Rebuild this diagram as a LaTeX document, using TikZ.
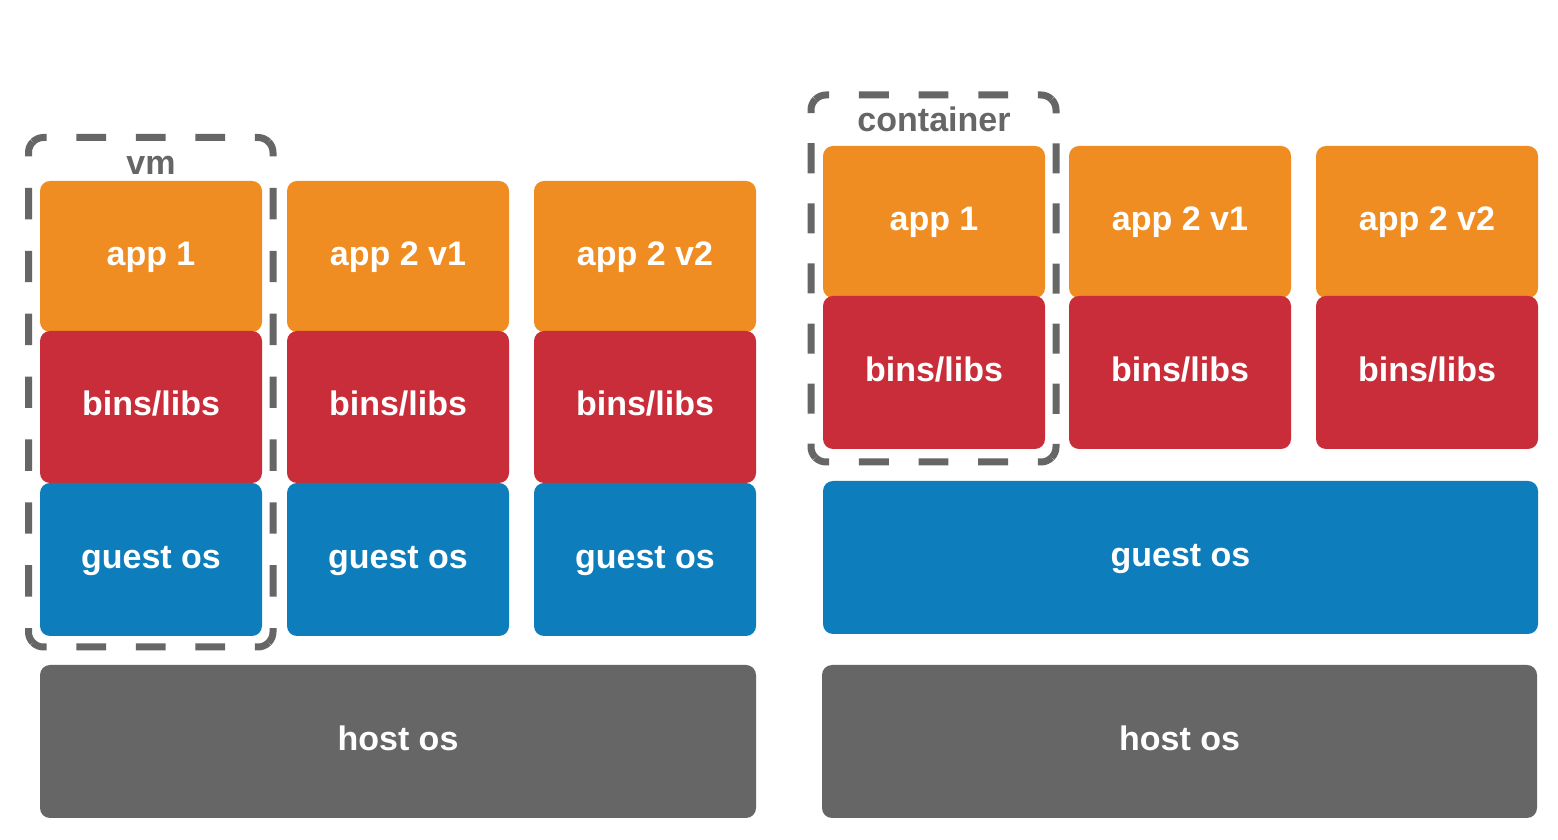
\documentclass[tikz,border=0pt]{standalone}
\usepackage{fontspec}
\setmainfont{Liberation Sans}
\definecolor{cOrange}{HTML}{EF8D22}
\definecolor{cRed}{HTML}{C92D39}
\definecolor{cBlue}{HTML}{0D7DBC}
\definecolor{cGray}{HTML}{666666}
\tikzset{
  layer/.style={rectangle, rounded corners=10pt, inner sep=0pt, draw=none,
    text=white, font=\fontsize{34}{40}\selectfont\bfseries,
    text height=25pt, text depth=7pt},
  applayer/.style={layer, fill=cOrange},
  binslayer/.style={layer, fill=cRed},
  oslayer/.style={layer, fill=cBlue},
  hostlayer/.style={layer, fill=cGray},
  grouplabel/.style={text=cGray, font=\fontsize{34}{40}\selectfont\bfseries, inner sep=0pt, anchor=base},
  groupline/.style={draw=cGray, line width=7pt}
}
\begin{document}
\begin{tikzpicture}[x=1pt,y=1pt]
\useasboundingbox (0,0) rectangle (1558,840);
\fill[white] (0,0) rectangle (1558,840);

% ---------------- left: virtual machines ----------------
\node[applayer, minimum width=222pt, minimum height=151pt] (appA) at (151,583.5) {app 1};
\node[applayer, minimum width=222pt, minimum height=151pt] (appB) at (398,583.5) {app 2 v1};
\node[applayer, minimum width=222pt, minimum height=151pt] (appC) at (645,583.5) {app 2 v2};
\node[binslayer, minimum width=222pt, minimum height=152pt] (binsA) at (151,433) {bins/libs};
\node[binslayer, minimum width=222pt, minimum height=152pt] (binsB) at (398,433) {bins/libs};
\node[binslayer, minimum width=222pt, minimum height=152pt] (binsC) at (645,433) {bins/libs};
\node[oslayer, minimum width=222pt, minimum height=153pt] (osA) at (151,280.5) {guest os};
\node[oslayer, minimum width=222pt, minimum height=153pt] (osB) at (398,280.5) {guest os};
\node[oslayer, minimum width=222pt, minimum height=153pt] (osC) at (645,280.5) {guest os};
\node[hostlayer, minimum width=716pt, minimum height=153pt] (hostL) at (398,98.5) {host os};

% vm dashed group
\draw[groupline, dash pattern=on 29.76pt off 29.76pt, dash phase=14.88pt]
  ([shift={(135:15)}]43.5,687.5) arc[start angle=135,end angle=90,radius=15] -- (258,702.5)
  arc[start angle=90,end angle=45,radius=15];
\draw[groupline, dash pattern=on 31.44pt off 31.44pt, dash phase=15.72pt]
  ([shift={(45:15)}]258,687.5) arc[start angle=45,end angle=0,radius=15] -- (273,208)
  arc[start angle=0,end angle=-45,radius=15];
\draw[groupline, dash pattern=on 29.76pt off 29.76pt, dash phase=14.88pt]
  ([shift={(-45:15)}]258,208) arc[start angle=-45,end angle=-90,radius=15] -- (43.5,193)
  arc[start angle=-90,end angle=-135,radius=15];
\draw[groupline, dash pattern=on 31.44pt off 31.44pt, dash phase=15.72pt]
  ([shift={(-135:15)}]43.5,208) arc[start angle=-135,end angle=-180,radius=15] -- (28.5,687.5)
  arc[start angle=180,end angle=135,radius=15];
\node[grouplabel] (vmlabel) at (151,665) {vm};

% ---------------- right: containers ----------------
\node[applayer, minimum width=222pt, minimum height=152pt] (appD) at (934,618) {app 1};
\node[applayer, minimum width=222pt, minimum height=152pt] (appE) at (1180,618) {app 2 v1};
\node[applayer, minimum width=222pt, minimum height=152pt] (appF) at (1427,618) {app 2 v2};
\node[binslayer, minimum width=222pt, minimum height=153pt] (binsD) at (934,467.5) {bins/libs};
\node[binslayer, minimum width=222pt, minimum height=153pt] (binsE) at (1180,467.5) {bins/libs};
\node[binslayer, minimum width=222pt, minimum height=153pt] (binsF) at (1427,467.5) {bins/libs};
\node[oslayer, minimum width=715pt, minimum height=153pt] (osR) at (1180.5,282.5) {guest os};
\node[hostlayer, minimum width=715pt, minimum height=153pt] (hostR) at (1179.5,98.5) {host os};

% container dashed group
\draw[groupline, dash pattern=on 29.82pt off 29.82pt, dash phase=14.91pt]
  ([shift={(135:15)}]826,730) arc[start angle=135,end angle=90,radius=15] -- (1041,745)
  arc[start angle=90,end angle=45,radius=15];
\draw[groupline, dash pattern=on 30.05pt off 30.05pt, dash phase=15.02pt]
  ([shift={(45:15)}]1041,730) arc[start angle=45,end angle=0,radius=15] -- (1056,393)
  arc[start angle=0,end angle=-45,radius=15];
\draw[groupline, dash pattern=on 29.82pt off 29.82pt, dash phase=14.91pt]
  ([shift={(-45:15)}]1041,393) arc[start angle=-45,end angle=-90,radius=15] -- (826,378)
  arc[start angle=-90,end angle=-135,radius=15];
\draw[groupline, dash pattern=on 30.05pt off 30.05pt, dash phase=15.02pt]
  ([shift={(-135:15)}]826,393) arc[start angle=-135,end angle=-180,radius=15] -- (811,730)
  arc[start angle=180,end angle=135,radius=15];
\node[grouplabel] (ctlabel) at (934,708) {container};
\end{tikzpicture}
\end{document}
